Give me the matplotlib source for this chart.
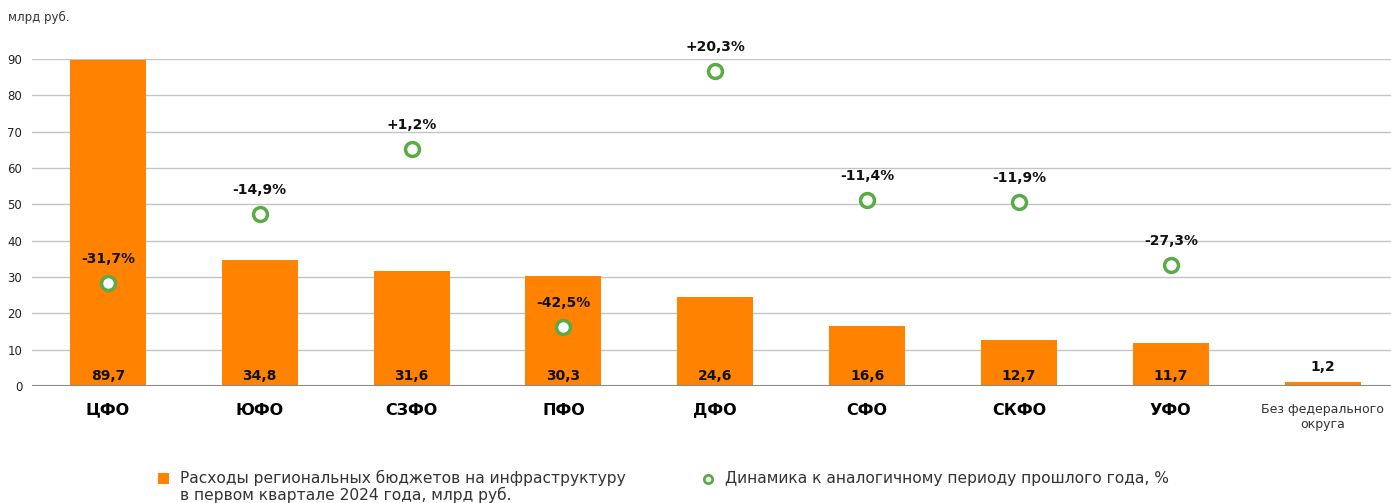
import matplotlib
matplotlib.use("Agg")
import matplotlib.pyplot as plt
from matplotlib.lines import Line2D
from matplotlib.patches import Rectangle

plt.rcParams['font.family'] = ['DejaVu Sans']

# данные
categories = ['ЦФО', 'ЮФО', 'СЗФО', 'ПФО', 'ДФО', 'СФО', 'СКФО', 'УФО',
              'Без федерального\nокруга']
spending = [89.7, 34.8, 31.6, 30.3, 24.6, 16.6, 12.7, 11.7, 1.2]
dynamics = [-31.7, -14.9, 1.2, -42.5, 20.3, -11.4, -11.9, -27.3]
yticks = [0, 10, 20, 30, 40, 50, 60, 70, 80, 90]

orange = '#ff8200'
green = '#5aab46'

fig = plt.figure(figsize=(13.91, 5.03), dpi=100)
ax = fig.add_axes([0.023, 0.2326, 0.977, 0.65])
x = list(range(len(categories)))

ax.bar(x, spending, width=0.5, color=orange, zorder=2)
ax.set_xlim(-0.5, 8.45)
ax.set_ylim(0, 90)
ax.set_yticks(yticks)
ax.tick_params(axis='y', length=0, pad=7, labelsize=8.5, labelcolor='#222222')
ax.tick_params(axis='x', length=0, pad=12)
ax.set_xticks(x)
ax.set_xticklabels(categories)
for i, lab in enumerate(ax.get_xticklabels()):
    if i < 8:
        lab.set_fontsize(11.5)
        lab.set_fontweight('bold')
    else:
        lab.set_fontsize(9)
        lab.set_color('#333333')
for s in ax.spines.values():
    s.set_visible(False)
ax.grid(axis='y', color='#c4c4c4', linewidth=1, zorder=0)
ax.axhline(0, color='#8a8a8a', linewidth=1.5, zorder=3)

# подписи значений
for i, v in enumerate(spending):
    txt = f'{v:.1f}'.replace('.', ',')
    if v > 5:
        ax.text(i, 0.9, txt, ha='center', va='bottom', fontsize=10,
                fontweight='bold', color='#111111', zorder=4)
    else:
        ax.text(i, v + 2.0, txt, ha='center', va='bottom', fontsize=10,
                fontweight='bold', color='#111111', zorder=4)

# динамика на второй оси
ax2 = ax.twinx()
ax2.set_ylim(-57.0, 23.17)
ax2.axis('off')
ax2.plot(x[:len(dynamics)], dynamics, linestyle='none', marker='o',
         markersize=10, markerfacecolor='white', markeredgecolor=green,
         markeredgewidth=2.5, zorder=5, clip_on=False)
for i, d in enumerate(dynamics):
    txt = ('+' if d > 0 else '') + f'{d:.1f}'.replace('.', ',') + '%'
    ax2.text(i, d + 4.2, txt, ha='center', va='bottom', fontsize=10,
             fontweight='bold', color='#111111', clip_on=False)

fig.text(0.006, 0.965, 'млрд руб.', fontsize=8.5, color='#333333', va='center')

# легенда
fig.add_artist(Rectangle((158 / 1391, 1 - 484 / 503), 11 / 1391, 11 / 503,
                         transform=fig.transFigure, facecolor=orange,
                         edgecolor='none'))
fig.text(180 / 1391, 1 - 478 / 503,
         'Расходы региональных бюджетов на инфраструктуру',
         fontsize=11.2, color='#333333', va='center')
fig.text(180 / 1391, 1 - 495 / 503,
         'в первом квартале 2024 года, млрд руб.',
         fontsize=11.2, color='#333333', va='center')
fig.add_artist(Line2D([708 / 1391], [1 - 479 / 503], transform=fig.transFigure,
                      linestyle='none', marker='o', markersize=6,
                      markerfacecolor='white', markeredgecolor=green,
                      markeredgewidth=2))
fig.text(725 / 1391, 1 - 478 / 503,
         'Динамика к аналогичному периоду прошлого года, %',
         fontsize=11.2, color='#333333', va='center')

fig.savefig('out.png', dpi=100)
